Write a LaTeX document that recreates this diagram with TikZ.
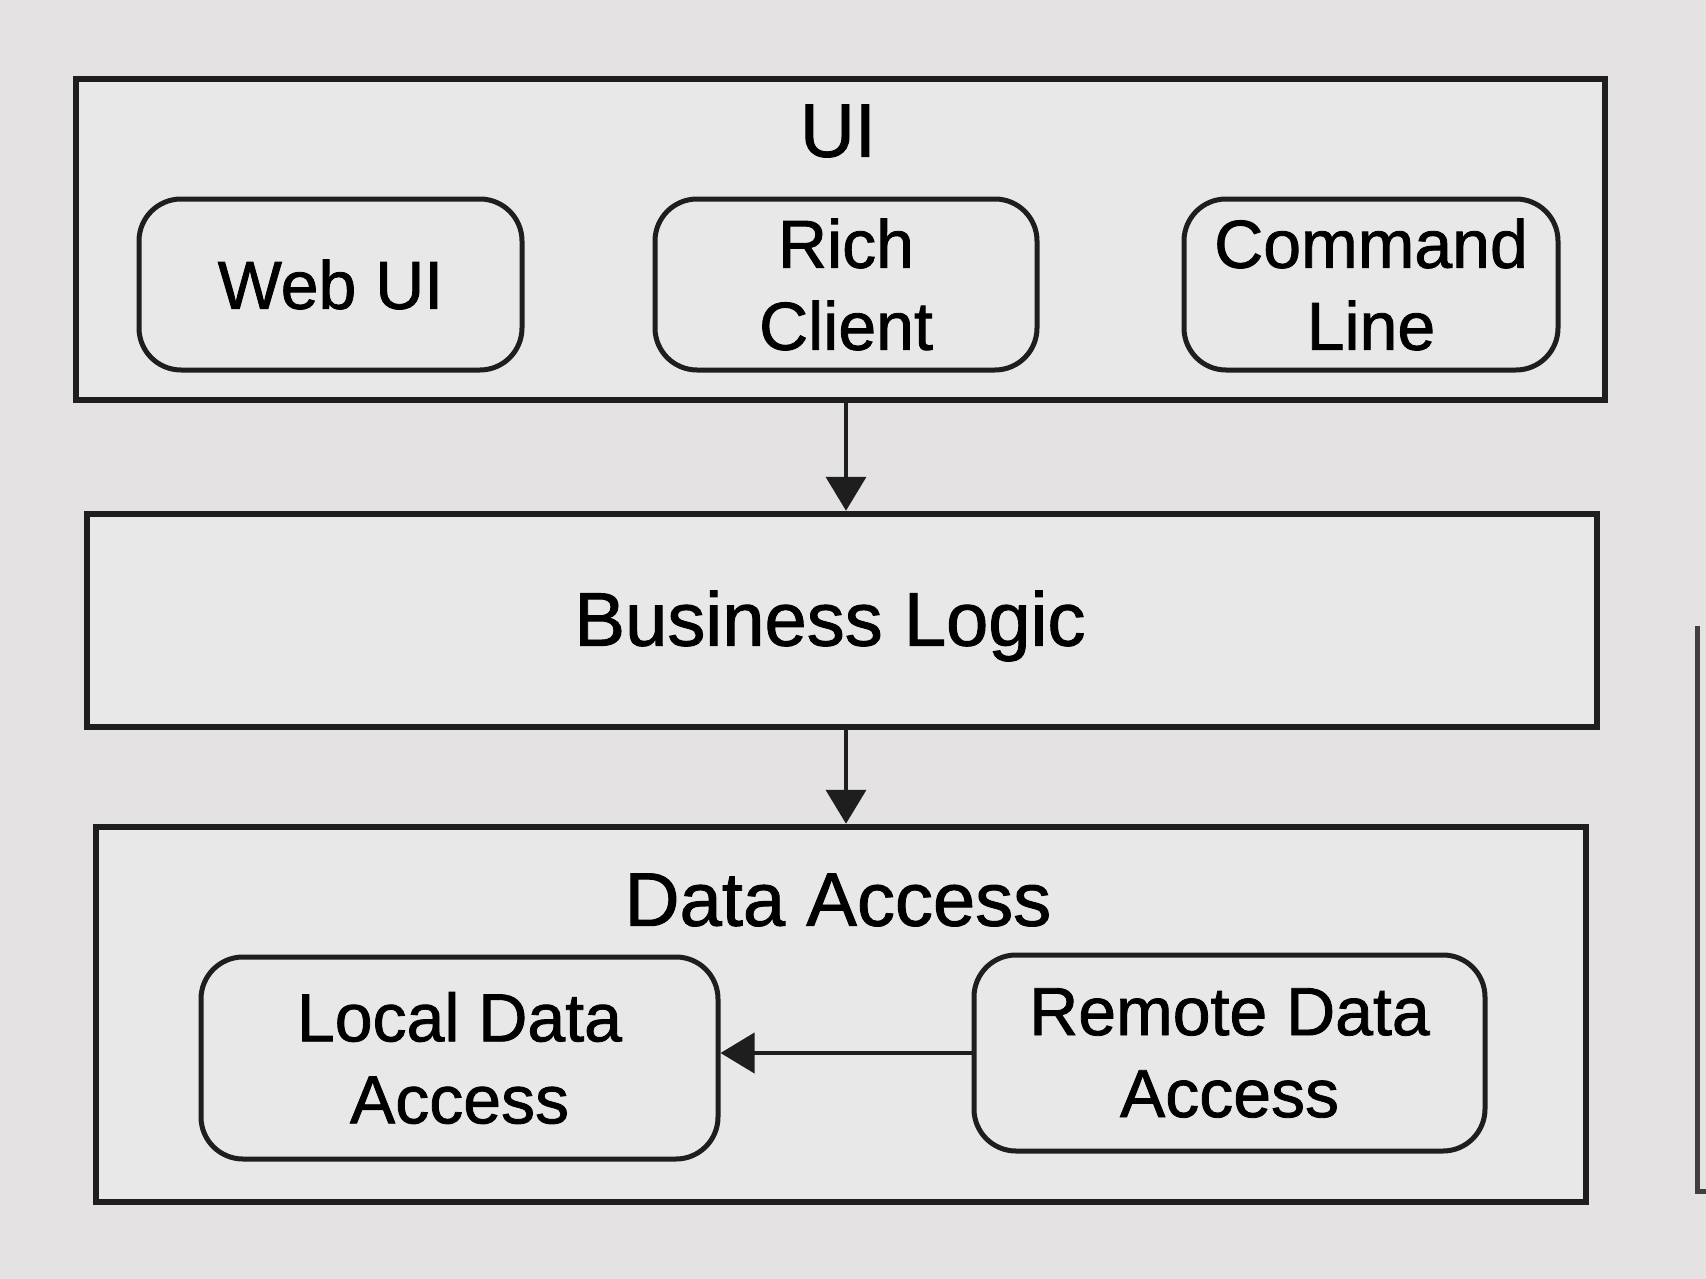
\documentclass[tikz,border=0pt]{standalone}
\usepackage{fontspec}
\setmainfont{Liberation Sans}[FakeBold=1.2]
\usetikzlibrary{arrows.meta}
\definecolor{bgc}{HTML}{E4E2E2}
\definecolor{boxc}{HTML}{E9E8E8}
\definecolor{linec}{HTML}{1E1E1E}
\tikzset{
  layer/.style={draw=linec, line width=6.5pt, fill=boxc, inner sep=0pt},
  comp/.style={draw=linec, line width=5pt, fill=boxc, rounded corners=42pt, inner sep=0pt, align=center, font=\fontsize{68}{82}\selectfont},
  lbl/.style={inner sep=0pt, font=\fontsize{76}{90}\selectfont},
  arr/.style={draw=linec, line width=4pt, -{Triangle[length=34pt,width=40pt]}}
}
\begin{document}
\begin{tikzpicture}[x=1pt,y=-1pt]
\useasboundingbox (0,0) rectangle (1706,1279);
\fill[bgc] (0,0) rectangle (1706,1279);
% screen edge artifact at right
\coordinate (e1) at (1697,626);
\coordinate (e2) at (1697,1191);
\coordinate (e3) at (1706,1191);
\draw[draw=linec!85, line width=5pt] (e1) -- (e2) -- (e3);

% layers
\node[layer, minimum width=1529pt, minimum height=321pt] (ui) at (840.5,239.5) {};
\node[lbl] (uil) at (838,131) {UI};
\node[comp, minimum width=383pt, minimum height=171pt] (web) at (330.5,284.5) {Web UI};
\node[comp, minimum width=382pt, minimum height=171pt] (rc) at (846,284.5) {Rich\\Client};
\node[comp, minimum width=374pt, minimum height=171pt] (cl) at (1371,284.5) {Command\\Line};

\node[layer, minimum width=1510pt, minimum height=213pt] (bl) at (842,620.5) {};
\node[lbl] (bll) at (830,626) {Business Logic};

\node[layer, minimum width=1490pt, minimum height=375pt] (da) at (841,1014.5) {};
\node[lbl] (dal) at (838,900) {Data Access};
\node[comp, minimum width=517pt, minimum height=202pt] (lda) at (459.5,1058) {Local Data\\Access};
\node[comp, minimum width=511pt, minimum height=196pt] (rda) at (1229.5,1053) {Remote Data\\Access};

% connectors
\draw[arr] (rc |- ui.south) -- (rc |- bl.north);
\draw[arr] (rc |- bl.south) -- (rc |- da.north);
\draw[arr] (rda.west) -- (lda.east |- rda.west);
\end{tikzpicture}
\end{document}
